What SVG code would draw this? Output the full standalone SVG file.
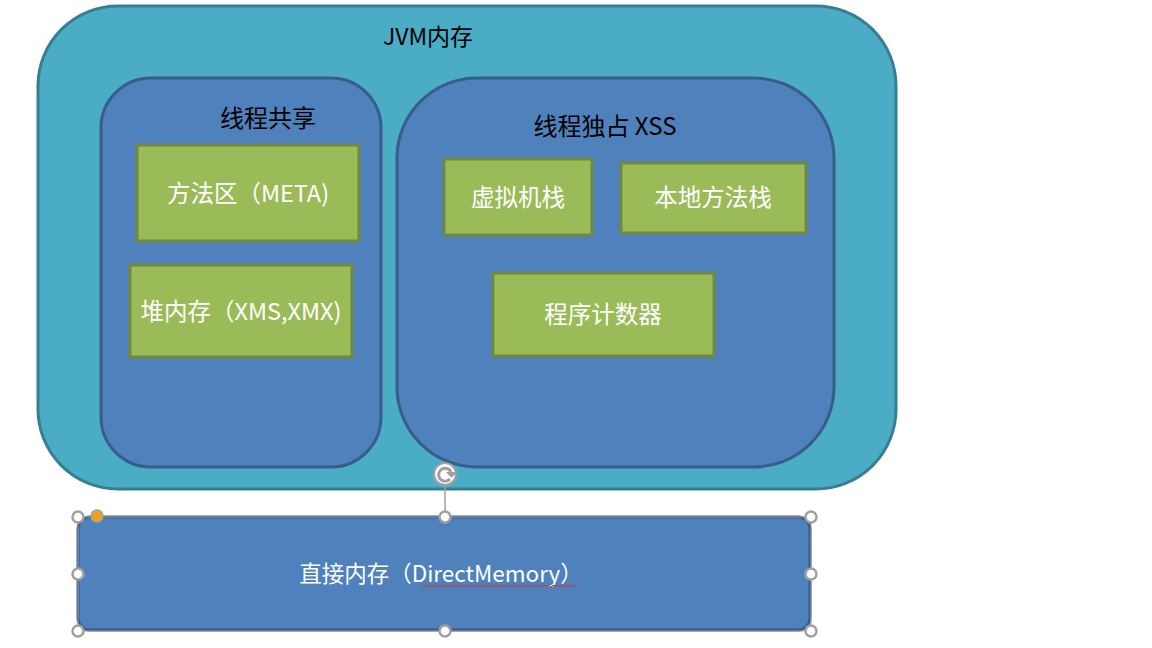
<svg xmlns="http://www.w3.org/2000/svg" width="1152" height="648" viewBox="0 0 1152 648">
<style>
.outer{fill:#4bacc6;stroke:#357f94;stroke-width:3}
.area{fill:#4f81bd;stroke:#385d8a;stroke-width:3}
.box{fill:#9bbb59;stroke:#71893f;stroke-width:3}
.t{font-family:"Noto Sans CJK SC","Noto Sans",sans-serif;font-size:23.5px;text-anchor:middle}
.head{font-size:24px}
.dark{fill:#000000}
.light{fill:#ffffff}
.handle{fill:#ffffff;stroke:#a0a0a0;stroke-width:2.5}
.frame{fill:none;stroke:#a0a0a0;stroke-width:1}
</style>
<rect width="1152" height="648" fill="#ffffff"/>
<g id="jvm">
<rect class="outer" x="38" y="6" width="858" height="483" rx="80" ry="80"/>
<text class="t dark" x="428" y="45" style="font-size:23px">JVM内存</text>
</g>
<g id="shared">
<rect class="area" x="101" y="78" width="280" height="389" rx="50" ry="50"/>
<text class="t dark head" x="268" y="127">线程共享</text>
</g>
<g id="exclusive">
<rect class="area" x="397" y="78" width="437" height="389" rx="80" ry="80"/>
<text class="t dark head" x="605" y="135">线程独占 XSS</text>
</g>
<g id="method-area">
<rect class="box" x="137" y="145" width="222" height="96"/>
<text class="t light" x="248" y="202">方法区（META)</text>
</g>
<g id="heap">
<rect class="box" x="130" y="265" width="222" height="92"/>
<text class="t light" x="241" y="320">堆内存（XMS,XMX)</text>
</g>
<g id="vm-stack">
<rect class="box" x="444" y="159" width="148" height="76"/>
<text class="t light" x="518" y="206">虚拟机栈</text>
</g>
<g id="native-stack">
<rect class="box" x="621" y="163" width="185" height="70"/>
<text class="t light" x="713" y="206">本地方法栈</text>
</g>
<g id="pc">
<rect class="box" x="493" y="273" width="221" height="83"/>
<text class="t light" x="603" y="323">程序计数器</text>
</g>
<g id="direct-memory">
<rect class="area" x="78" y="517" width="732" height="113" rx="12" ry="12"/>
<text class="t light" x="441" y="582" style="font-size:22.5px">直接内存（DirectMemory）</text>
<path d="M421 585 l2 2 l2 -2 l2 2 l2 -2 l2 2 l2 -2 l2 2 l2 -2 l2 2 l2 -2 l2 2 l2 -2 l2 2 l2 -2 l2 2 l2 -2 l2 2 l2 -2 l2 2 l2 -2 l2 2 l2 -2 l2 2 l2 -2 l2 2 l2 -2 l2 2 l2 -2 l2 2 l2 -2 l2 2 l2 -2 l2 2 l2 -2 l2 2 l2 -2 l2 2 l2 -2 l2 2 l2 -2 l2 2 l2 -2 l2 2 l2 -2 l2 2 l2 -2 l2 2 l2 -2 l2 2 l2 -2 l2 2 l2 -2 l2 2 l2 -2 l2 2 l2 -2 l2 2 l2 -2 l2 2 l2 -2 l2 2 l2 -2 l2 2 l2 -2 l2 2 l2 -2 l2 2 l2 -2 l2 2 l2 -2 l2 2 l2 -2 l2 2 l2 -2 l2 2 l2 -2 l2 2 l2 -2" fill="none" stroke="#e03030" stroke-width="1"/>
</g>
<g id="selection">
<rect class="frame" x="78" y="517" width="733" height="114"/>
<line x1="445" y1="485" x2="445" y2="511" stroke="#a0a0a0" stroke-width="1.5"/>
<circle cx="445" cy="474" r="11" fill="#ffffff" stroke="#a0a0a0" stroke-width="2"/>
<path d="M451 472 A6.5 6.5 0 1 0 450 479" fill="none" stroke="#a0a0a0" stroke-width="3"/>
<path d="M446 472 L457 472 L451.5 478 Z" fill="#a0a0a0"/>
<circle class="handle" cx="78" cy="517" r="5.5"/>
<circle class="handle" cx="445" cy="517" r="5.5"/>
<circle class="handle" cx="811" cy="517" r="5.5"/>
<circle class="handle" cx="78" cy="574" r="5.5"/>
<circle class="handle" cx="811" cy="574" r="5.5"/>
<circle class="handle" cx="78" cy="631" r="5.5"/>
<circle class="handle" cx="445" cy="631" r="5.5"/>
<circle class="handle" cx="811" cy="631" r="5.5"/>
<circle cx="97" cy="516" r="6" fill="#f0a020" stroke="#a0a0a0" stroke-width="1.5"/>
</g>
<g id="connectors"></g>
</svg>
